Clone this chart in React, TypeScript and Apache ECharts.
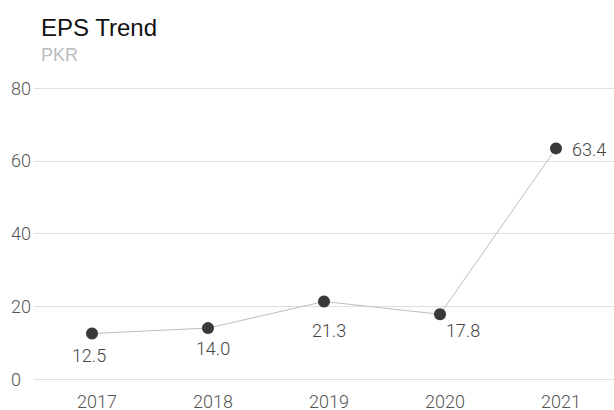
import React, { useEffect, useRef } from "react";
import * as echarts from "echarts";

const categories = ["2017", "2018", "2019", "2020", "2021"];
const eps = [12.5, 14.0, 21.3, 17.8, 63.4];
const yTicks = [0, 20, 40, 60, 80];

const FONT = "Roboto, 'Helvetica Neue', Arial, sans-serif";
const TITLE_FONT = "'Liberation Sans', Arial, sans-serif";

export default function App() {
  const ref = useRef<HTMLDivElement>(null);
  useEffect(() => {
    if (!ref.current) return;
    const chart = echarts.init(ref.current, undefined, { renderer: "svg" });
    const labelOffsets = [
      [-3, -1],
      [5, -3],
      [5, 6],
      [23, -7],
    ];
    const data = eps.map((v, i) => {
      if (i === eps.length - 1) {
        return {
          value: v,
          label: { position: "right", distance: 10, offset: [0, 1] },
        };
      }
      return {
        value: v,
        label: { position: "bottom", distance: 8, offset: labelOffsets[i] },
      };
    });
    chart.setOption({
      animation: false,
      title: [
        {
          text: "EPS Trend",
          left: 41,
          top: 15,
          padding: 0,
          textStyle: { fontFamily: TITLE_FONT, fontSize: 24, fontWeight: 400, color: "#111" },
        },
        {
          text: "PKR",
          left: 41,
          top: 46,
          padding: 0,
          textStyle: { fontFamily: TITLE_FONT, fontSize: 18, fontWeight: 400, color: "#bbb" },
        },
      ],
      grid: { left: 34, right: -1, top: 88, bottom: 31, containLabel: false },
      xAxis: {
        type: "category",
        data: categories,
        boundaryGap: true,
        axisLine: { show: false },
        axisTick: { show: false },
        axisLabel: {
          color: "#555",
          fontFamily: FONT,
          fontWeight: 300,
          fontSize: 18,
          margin: 13,
          padding: [0, 0, 0, 10],
        },
      },
      yAxis: {
        type: "value",
        min: yTicks[0],
        max: yTicks[yTicks.length - 1],
        interval: 20,
        axisLine: { show: false },
        axisTick: { show: false },
        splitLine: { lineStyle: { color: "#e0e0e0", width: 1 } },
        axisLabel: {
          color: "#555",
          fontFamily: FONT,
          fontWeight: 300,
          fontSize: 18,
          align: "left",
          margin: 23,
        },
      },
      series: [
        {
          type: "line",
          data,
          symbol: "circle",
          symbolSize: 12,
          itemStyle: { color: "#3a3a3a" },
          lineStyle: { color: "#bdbdbd", width: 1 },
          label: {
            show: true,
            color: "#444",
            fontFamily: FONT,
            fontWeight: 300,
            fontSize: 18,
            formatter: (p: any) => Number(p.value).toFixed(1),
          },
        },
      ],
    });
    return () => chart.dispose();
  }, []);
  return (
    <div
      ref={ref}
      style={{ position: "fixed", left: 0, top: 0, width: 614, height: 410, background: "#fff" }}
    />
  );
}
